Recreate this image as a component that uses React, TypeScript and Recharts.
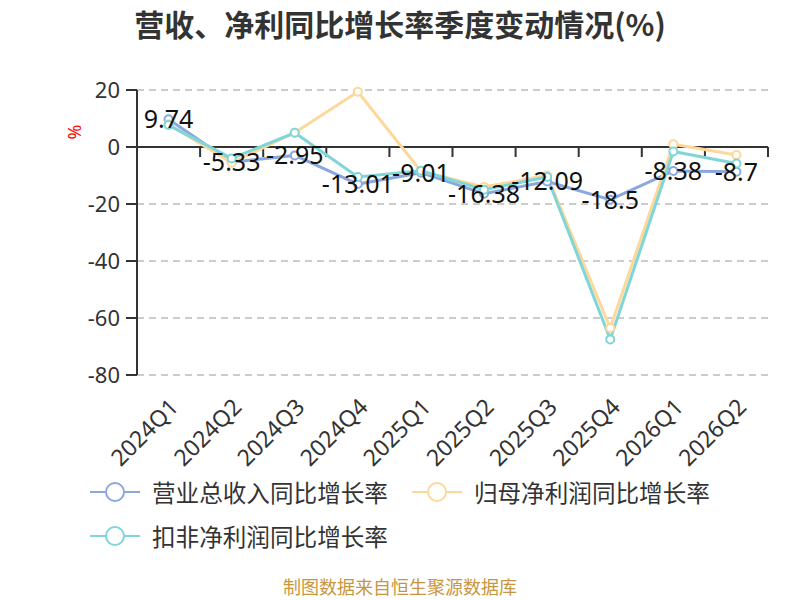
import React from "react";
import { LineChart, Line, XAxis, YAxis, CartesianGrid, ReferenceLine, Legend, LabelList } from "recharts";

// 季度
const categories = ["2024Q1", "2024Q2", "2024Q3", "2024Q4", "2025Q1", "2025Q2", "2025Q3", "2025Q4", "2026Q1", "2026Q2"];

// 同比增长率 (%)
const revenueYoy = [9.74, -5.33, -2.95, -13.01, -9.01, -16.38, -12.09, -18.5, -8.38, -8.7];
const parentNetYoy = [8.0, -5.5, 5.0, 19.4, -8.5, -14.0, -10.0, -63.5, 1.0, -2.8];
const deductedNetYoy = [7.7, -4.0, 5.0, -10.5, -8.3, -15.0, -10.5, -67.5, -1.6, -5.8];

const yTicks = [-80, -60, -40, -20, 0, 20];

const series = [
  { key: "rev", name: "营业总收入同比增长率", color: "#8ba8de" },
  { key: "parent", name: "归母净利润同比增长率", color: "#fed89a" },
  { key: "deducted", name: "扣非净利润同比增长率", color: "#7fd5d7" },
];

const rows = categories.map((cat, i) => ({
  cat,
  pos: i + 0.5,
  rev: revenueYoy[i],
  parent: parentNetYoy[i],
  deducted: deductedNetYoy[i],
}));

const CJK = '"Noto Sans CJK SC", "Noto Sans", sans-serif';
const NUM = '"Noto Sans", "Noto Sans CJK SC", sans-serif';

const XTick = (props: any) => {
  const { x, y, payload } = props;
  const label = categories[Math.floor(payload.value)];
  const ax = x + 5;
  const ay = y - 3;
  return (
    <text
      x={ax}
      y={ay}
      transform={`rotate(-45, ${ax}, ${ay})`}
      textAnchor="end"
      dominantBaseline="central"
      fontSize={23}
      fontFamily={NUM}
      fill="#333"
    >
      {label}
    </text>
  );
};

const PctLabel = (props: any) => {
  const vb = props.viewBox || { x: 0, y: 90 };
  const x = vb.x + 74;
  const y = vb.y + 42;
  return (
    <text x={x} y={y} transform={`rotate(-90, ${x}, ${y})`} textAnchor="middle" dominantBaseline="central" fontSize={18} fill="#ff0000" fontFamily={NUM}>
      %
    </text>
  );
};

const LegendBox = () => (
  <div style={{ display: "flex", flexWrap: "wrap", width: 680, paddingLeft: 90, columnGap: 24, rowGap: 8 }}>
    {series.map((s) => (
      <div key={s.key} style={{ display: "flex", alignItems: "center", height: 36 }}>
        <svg width={50} height={24} style={{ marginRight: 12 }}>
          <line x1={0} y1={12} x2={50} y2={12} stroke={s.color} strokeWidth={2} />
          <circle cx={25} cy={12} r={9} fill="#fff" stroke={s.color} strokeWidth={2} />
        </svg>
        <span style={{ fontFamily: CJK, fontSize: 23.6, color: "#333", whiteSpace: "nowrap" }}>{s.name}</span>
      </div>
    ))}
  </div>
);

export default function App() {
  return (
    <div style={{ position: "absolute", left: 0, top: 0, width: 800, height: 600, background: "#fff", overflow: "hidden" }}>
      <div
        style={{
          position: "absolute",
          top: 8,
          left: 0,
          width: 800,
          textAlign: "center",
          fontFamily: CJK,
          fontWeight: 700,
          fontSize: 30,
          lineHeight: "30px",
          color: "#333",
        }}
      >
        营收、净利同比增长率季度变动情况(%)
      </div>
      <LineChart width={800} height={600} data={rows} margin={{ top: 90, right: 32, left: 0, bottom: 0 }}>
        <CartesianGrid vertical={false} stroke="#cccccc" strokeWidth={2} strokeDasharray="7 5" />
        <XAxis
          dataKey="pos"
          type="number"
          domain={[0, categories.length]}
          ticks={rows.map((r) => r.pos)}
          interval={0}
          axisLine={false}
          tickLine={false}
          tickSize={0}
          tickMargin={30}
          height={225}
          tick={<XTick />}
        />
        <YAxis
          type="number"
          domain={[-80, 20]}
          ticks={yTicks}
          interval={0}
          width={137}
          axisLine={{ stroke: "#333", strokeWidth: 2 }}
          tickLine={{ stroke: "#333", strokeWidth: 2 }}
          tickSize={11}
          tickMargin={6}
          tick={{ fontSize: 22, fill: "#333", fontFamily: NUM }}
          label={<PctLabel />}
        />
        <ReferenceLine y={0} stroke="#333" strokeWidth={2} />
        {categories.map((_, i) => (
          <ReferenceLine
            key={"t" + i}
            segment={[
              { x: i + 1, y: 0 },
              { x: i + 1, y: -3.5 },
            ]}
            stroke="#333"
            strokeWidth={2}
          />
        ))}
        {series.map((s) => (
          <Line
            key={s.key}
            dataKey={s.key}
            name={s.name}
            stroke={s.color}
            strokeWidth={3}
            dot={{ r: 4, fill: "#fff", stroke: s.color, strokeWidth: 2 }}
            activeDot={false}
            isAnimationActive={false}
          />
        ))}
        <Line dataKey="rev" stroke="none" dot={false} activeDot={false} legendType="none" isAnimationActive={false}>
          <LabelList
            dataKey="rev"
            position="center"
            fontSize={25}
            fill="#111"
            fontFamily={NUM}
          />
        </Line>
        <Legend verticalAlign="middle" align="center" layout="horizontal" wrapperStyle={{ left: 0, top: 474, width: 800 }} content={<LegendBox />} />
      </LineChart>
      <div
        style={{
          position: "absolute",
          top: 576,
          left: 0,
          width: 800,
          textAlign: "center",
          fontFamily: CJK,
          fontSize: 18,
          lineHeight: "20px",
          color: "#c8963e",
        }}
      >
        制图数据来自恒生聚源数据库
      </div>
    </div>
  );
}
